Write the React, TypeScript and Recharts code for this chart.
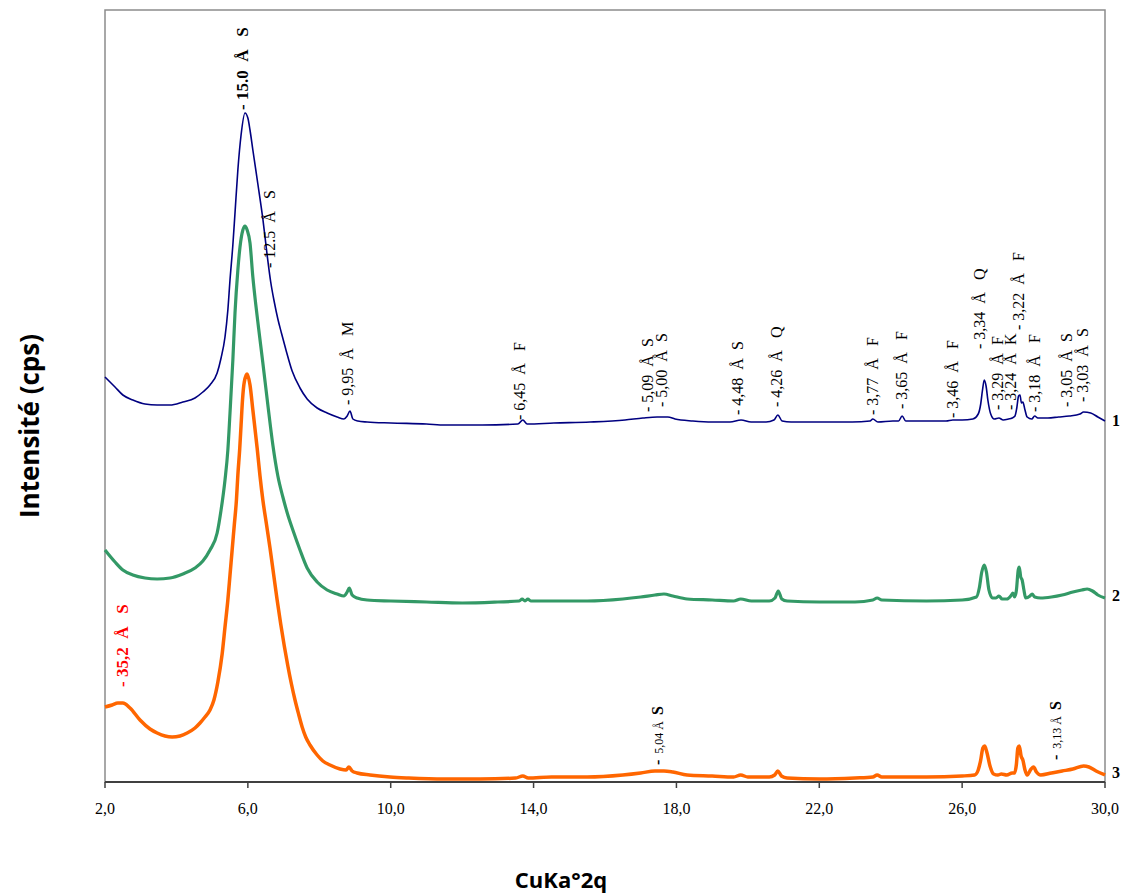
import React from 'react';
import { ComposedChart, Line, Scatter, XAxis, YAxis, ReferenceArea, Label } from 'recharts';

const SERIF = '"Liberation Serif", "Times New Roman", serif';
const SANS = '"Open Sans", "Noto Sans", sans-serif';
const NB = '\u00a0';

// ---- Sample 1 (navy) : 2theta / intensity (arbitrary cps, offset) ----
const theta1 = [2.0, 2.28, 2.5, 2.78, 3.12, 3.46, 3.82, 4.18, 4.52, 4.74, 4.94, 5.14, 5.25, 5.36, 5.44, 5.5, 5.58, 5.64, 5.72, 5.81, 5.92, 6.0, 6.06, 6.14, 6.28, 6.42, 6.54, 6.64, 6.74, 6.84, 6.94, 7.06, 7.24, 7.46, 7.66, 7.94, 8.22, 8.5, 8.69, 8.78, 8.86, 8.94, 9.08, 9.34, 10.0, 11.0, 11.52, 12.56, 13.56, 13.7, 13.82, 14.57, 15.58, 16.56, 17.06, 17.46, 17.76, 17.96, 18.46, 19.0, 19.5, 19.81, 20.09, 20.51, 20.73, 20.84, 20.96, 21.21, 21.91, 22.92, 23.42, 23.5, 23.64, 24.06, 24.22, 24.32, 24.42, 24.88, 25.55, 25.74, 26.0, 26.3, 26.45, 26.52, 26.57, 26.62, 26.67, 26.72, 26.8, 26.9, 27.03, 27.15, 27.3, 27.4, 27.48, 27.53, 27.58, 27.62, 27.66, 27.7, 27.76, 27.82, 27.95, 28.03, 28.12, 28.4, 28.7, 29.0, 29.3, 29.4, 29.6, 29.8, 30.0];
const counts1 = [405, 395, 387, 382, 378, 377, 377, 380, 384, 390, 397, 409, 424, 445, 472, 502, 537, 569, 612, 647, 669, 664, 652, 632, 598, 563, 527, 500, 480, 463, 449, 433, 411, 394, 383, 374, 369, 365, 363, 366, 371, 363, 361, 360, 359, 358, 357, 357, 358, 362, 358, 359, 360, 362, 364, 365, 365, 363, 361, 360, 360, 362, 360, 360, 362, 367, 361, 360, 360, 360, 361, 363, 360, 361, 361, 366, 361, 361, 361, 362, 362, 363, 368, 378, 392, 402, 396, 382, 368, 363, 364, 362, 363, 364, 366, 374, 386, 387, 379, 380, 372, 365, 363, 366, 364, 364, 365, 366, 368, 370, 369, 365, 361];

// ---- Sample 2 (green) ----
const theta2 = [2.0, 2.28, 2.5, 2.78, 3.12, 3.46, 3.82, 4.18, 4.52, 4.74, 4.94, 5.14, 5.25, 5.36, 5.44, 5.5, 5.58, 5.64, 5.72, 5.78, 5.86, 5.92, 5.98, 6.06, 6.14, 6.22, 6.3, 6.42, 6.56, 6.7, 6.84, 6.98, 7.12, 7.26, 7.46, 7.66, 7.94, 8.22, 8.5, 8.69, 8.78, 8.84, 8.92, 9.06, 9.34, 10.0, 11.0, 12.0, 13.0, 13.6, 13.68, 13.76, 13.84, 13.92, 14.5, 15.5, 16.5, 17.0, 17.4, 17.65, 17.9, 18.3, 19.0, 19.6, 19.8, 20.1, 20.6, 20.76, 20.85, 20.95, 21.1, 22.0, 23.0, 23.5, 23.62, 23.75, 25.0, 26.0, 26.4, 26.48, 26.55, 26.62, 26.68, 26.75, 26.85, 26.95, 27.03, 27.12, 27.25, 27.38, 27.42, 27.47, 27.52, 27.57, 27.6, 27.64, 27.68, 27.73, 27.78, 27.9, 27.96, 28.03, 28.2, 28.5, 28.8, 29.1, 29.35, 29.5, 29.65, 29.8, 30.0];
const counts2 = [232, 220, 212, 207, 204, 203, 204, 208, 214, 221, 232, 249, 272, 302, 332, 369, 422, 469, 512, 535, 552, 556, 552, 539, 505, 478, 454, 419, 377, 337, 306, 285, 267, 252, 232, 214, 200, 192, 188, 186, 190, 194, 187, 184, 182, 181, 180, 179, 180, 181, 183, 181, 183, 181, 181, 181, 183, 185, 187, 188, 186, 183, 182, 181, 183, 181, 181, 184, 191, 183, 181, 180, 180, 182, 184, 182, 181, 182, 185, 194, 210, 217, 210, 192, 184, 184, 186, 183, 183, 187, 189, 185, 192, 212, 215, 205, 202, 192, 184, 186, 188, 185, 184, 185, 187, 190, 192, 193, 191, 187, 184];

// ---- Sample 3 (orange) ----
const theta3 = [2.0, 2.2, 2.36, 2.5, 2.7, 2.98, 3.26, 3.46, 3.68, 3.88, 4.1, 4.3, 4.52, 4.66, 4.8, 4.94, 5.05, 5.16, 5.28, 5.36, 5.44, 5.5, 5.56, 5.62, 5.68, 5.72, 5.77, 5.81, 5.85, 5.9, 5.98, 6.06, 6.14, 6.26, 6.34, 6.42, 6.52, 6.62, 6.72, 6.82, 6.92, 7.02, 7.12, 7.22, 7.32, 7.42, 7.52, 7.62, 7.74, 7.94, 8.1, 8.3, 8.58, 8.75, 8.83, 8.92, 9.06, 9.42, 9.98, 10.5, 11.5, 12.5, 13.5, 13.7, 13.85, 14.5, 15.5, 16.5, 17.0, 17.4, 17.65, 17.9, 18.3, 19.0, 19.6, 19.8, 20.0, 20.6, 20.75, 20.84, 20.94, 21.1, 22.0, 23.0, 23.5, 23.62, 23.75, 25.0, 26.0, 26.35, 26.45, 26.52, 26.58, 26.63, 26.69, 26.78, 26.88, 27.0, 27.1, 27.25, 27.4, 27.47, 27.52, 27.56, 27.6, 27.65, 27.7, 27.76, 27.82, 27.93, 28.0, 28.08, 28.2, 28.5, 28.8, 29.1, 29.4, 29.55, 29.75, 30.0];
const counts3 = [75, 77, 79, 79, 74, 62, 53, 49, 46, 45, 46, 49, 54, 59, 65, 72, 82, 100, 128, 155, 182, 207, 232, 257, 282, 307, 332, 357, 382, 400, 408, 397, 372, 334, 306, 282, 258, 234, 208, 182, 158, 136, 116, 98, 82, 68, 55, 45, 37, 27, 21, 17, 13, 12, 15, 11, 9, 7, 5, 4, 3, 3, 4, 6, 4, 5, 5, 7, 9, 11, 11, 10, 7, 6, 5, 7, 5, 5, 7, 11, 6, 4, 3, 4, 5, 7, 5, 5, 6, 7, 12, 22, 34, 36, 30, 16, 8, 7, 8, 7, 9, 9, 18, 34, 36, 26, 22, 12, 7, 13, 15, 10, 7, 9, 11, 13, 16, 15, 11, 7];

// ---- Peak annotations ----
const peakTheta = [5.86, 6.62, 8.8, 13.62, 17.2, 17.6, 19.72, 20.82, 23.5, 24.32, 25.74, 26.5, 27.0, 27.37, 27.59, 28.04, 28.94, 29.38, 2.48, 17.48, 28.63];
const peakLevel = [672, 514, 377, 362, 370, 375, 367, 375, 367, 373, 364, 433, 372, 372, 452, 370, 375, 380, 95, 17, 22];
const peakSpacing = ['15.0', '12.5', '9,95', '6,45', '5,09', '5,00', '4,48', '4,26', '3,77', '3,65', '3,46', '3,34', '3,29', '3,24', '3,22', '3,18', '3,05', '3,03', '35,2', '5,04', '3,13'];
const peakMineral = ['S', 'S', 'M', 'F', 'S', 'S', 'S', 'Q', 'F', 'F', 'F', 'Q', 'F', 'K', 'F', 'F', 'S', 'S', 'S', 'S', 'S'];
const peakKind = ['bold', 'wide', 'wide', 'wide', 'tight', 'tight', 'tight', 'wide', 'wide', 'wide', 'wide', 'wide', 'tight', 'tight', 'wide', 'wide', 'tight', 'tight', 'red', 'mixed', 'mixed'];

// ---- Series tags at the right end ----
const tagNames = ['1', '2', '3'];
const tagLevel = [362, 187, 10];

const xTicks = [2, 6, 10, 14, 18, 22, 26, 30];

const series1 = theta1.map((x, i) => ({ x, y: counts1[i] }));
const series2 = theta2.map((x, i) => ({ x, y: counts2[i] }));
const series3 = theta3.map((x, i) => ({ x, y: counts3[i] }));
const labelData = peakTheta.map((x, i) => ({ x, y: peakLevel[i], d: peakSpacing[i], m: peakMineral[i], kind: peakKind[i] }));
const tagData = tagNames.map((t, i) => ({ x: 30, y: tagLevel[i], t }));

const kindStyle: Record<string, any> = {
  bold: { size: 17, weight: 700, color: '#000000', gapA: 2, gapB: 3 },
  wide: { size: 16, weight: 400, color: '#000000', gapA: 2, gapB: 3 },
  tight: { size: 16, weight: 400, color: '#000000', gapA: 2, gapB: 2 },
  red: { size: 17, weight: 700, color: '#FF0000', gapA: 2, gapB: 3 },
};

const PeakLabel = (props: any) => {
  const { cx, cy, payload } = props;
  if (cx == null || cy == null) return <g />;
  if (payload.kind === 'mixed') {
    return (
      <text transform={`translate(${cx + 5},${cy}) rotate(-90)`} fontFamily={SERIF} fill="#000">
        <tspan fontSize={16} fontWeight={700}>-</tspan>
        <tspan fontSize={12} fontWeight={400}>{NB + NB + payload.d + NB + 'Å' + NB + NB}</tspan>
        <tspan fontSize={16} fontWeight={700}>{payload.m}</tspan>
      </text>
    );
  }
  const s = kindStyle[payload.kind];
  const txt = '-' + NB + payload.d + NB.repeat(s.gapA) + 'Å' + NB.repeat(s.gapB) + payload.m;
  return (
    <text
      transform={`translate(${cx + s.size * 0.33},${cy}) rotate(-90)`}
      fontFamily={SERIF}
      fontSize={s.size}
      fontWeight={s.weight}
      fill={s.color}
    >
      {txt}
    </text>
  );
};

const TagLabel = (props: any) => {
  const { cx, cy, payload } = props;
  if (cx == null || cy == null) return <g />;
  return (
    <text x={cx + 7} y={cy + 6} fontFamily={SERIF} fontSize={16} fontWeight={700} fill="#000">
      {payload.t}
    </text>
  );
};

export default function App() {
  return (
    <div style={{ position: 'fixed', top: 0, left: 0, width: 1123, height: 895, background: '#fff' }}>
      <ComposedChart width={1123} height={895} margin={{ top: 10, right: 18, bottom: 73, left: 105 }}>
        <ReferenceArea x1={2} x2={30} y1={0} y2={772} fill="none" stroke="#8c8c8c" strokeWidth={1.5} />
        <XAxis
          type="number"
          dataKey="x"
          domain={[2, 30]}
          ticks={xTicks}
          tickFormatter={(v: number) => v.toFixed(1).replace('.', ',')}
          tick={{ fontFamily: SERIF, fontSize: 16, fill: '#000' }}
          axisLine={{ stroke: '#404040', strokeWidth: 2 }}
          tickLine={{ stroke: '#404040', strokeWidth: 1.5 }}
          tickSize={6}
          tickMargin={15}
          height={40}
        >
          <Label
            content={() => (
              <text x={561} y={888} textAnchor="middle" fontFamily={SANS} fontSize={22} fontWeight={700} fill="#000">
                CuKa°2q
              </text>
            )}
          />
          <Label
            content={() => (
              <text
                transform="translate(39,426) rotate(-90)"
                textAnchor="middle"
                fontFamily={SANS}
                fontSize={26}
                fontWeight={700}
                fill="#000"
              >
                Intensité (cps)
              </text>
            )}
          />
        </XAxis>
        <YAxis
          type="number"
          dataKey="y"
          domain={[0, 772]}
          width={0}
          tick={false}
          tickLine={false}
          axisLine={{ stroke: '#000', strokeWidth: 1.5 }}
        />
        <Line data={series1} dataKey="y" type="monotone" stroke="#000080" strokeWidth={1.6} dot={false} activeDot={false} isAnimationActive={false} />
        <Line data={series2} dataKey="y" type="monotone" stroke="#339966" strokeWidth={3.2} dot={false} activeDot={false} isAnimationActive={false} />
        <Line data={series3} dataKey="y" type="monotone" stroke="#FF6600" strokeWidth={3.5} dot={false} activeDot={false} isAnimationActive={false} />
        <Scatter data={labelData} dataKey="y" shape={PeakLabel} isAnimationActive={false} />
        <Scatter data={tagData} dataKey="y" shape={TagLabel} isAnimationActive={false} />
      </ComposedChart>
    </div>
  );
}
